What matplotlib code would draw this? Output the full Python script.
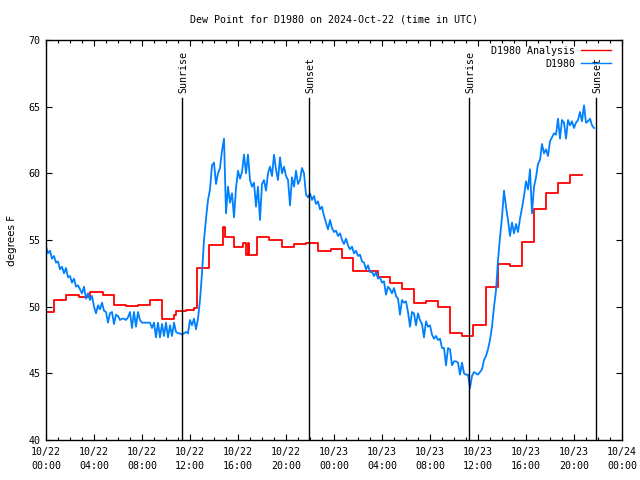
import matplotlib
matplotlib.use("Agg")
import matplotlib.pyplot as plt
from matplotlib.ticker import MultipleLocator
import numpy as np

# hours since 2024-10-22 00:00 UTC
tick_hours = [0, 4, 8, 12, 16, 20, 24, 28, 32, 36, 40, 44, 48]
tick_labels = ["10/22\n00:00", "10/22\n04:00", "10/22\n08:00", "10/22\n12:00",
               "10/22\n16:00", "10/22\n20:00", "10/23\n00:00", "10/23\n04:00",
               "10/23\n08:00", "10/23\n12:00", "10/23\n16:00", "10/23\n20:00",
               "10/24\n00:00"]

sun_hours = [11.36, 21.94, 35.29, 45.86]
sun_names = ["Sunrise", "Sunset", "Sunrise", "Sunset"]

# hourly analysis (step changes)
analysis_hours = [0.0, 0.7, 1.7, 2.75, 3.7, 4.75, 5.65, 6.65, 7.7, 8.65, 9.65,
                  10.65, 10.8, 11.65, 12.35, 12.6, 13.6, 14.75, 14.9, 15.65,
                  16.45, 16.65, 16.85, 16.95, 17.6, 18.6, 19.65, 20.7, 21.65,
                  22.65, 23.75, 24.65, 25.6, 27.65, 28.65, 29.65, 30.7, 31.65,
                  32.65, 33.65, 34.7, 35.6, 36.65, 37.65, 38.65, 39.65, 40.65,
                  41.65, 42.7, 43.65, 44.65]
analysis_vals = [49.6, 50.5, 50.85, 50.7, 51.1, 50.85, 50.15, 50.05, 50.1, 50.5,
                 49.1, 49.4, 49.65, 49.75, 49.9, 52.9, 54.65, 55.95, 55.2, 54.45,
                 54.8, 53.85, 54.8, 53.85, 55.2, 55.0, 54.45, 54.7, 54.75, 54.2,
                 54.3, 53.65, 52.7, 52.2, 51.75, 51.3, 50.25, 50.4, 49.95, 48.0,
                 47.8, 48.6, 51.5, 53.2, 53.05, 54.85, 57.35, 58.5, 59.25, 59.85,
                 59.85]

# station observations, every 10 minutes
obs_vals = [
    54.5, 54.0, 54.2, 53.6, 53.8, 53.3,
    53.4, 52.8, 53.0, 52.5, 52.9, 52.2,
    52.3, 51.8, 52.1, 51.5, 51.6, 51.3,
    51.0, 51.5, 50.6, 51.0, 50.5, 50.8,
    50.0, 49.5, 50.1, 49.8, 50.3, 49.7,
    49.6, 48.8, 49.5, 49.6, 48.7, 49.4,
    49.3, 49.0, 49.1, 49.1, 49.0, 49.2,
    49.6, 48.4, 49.6, 48.5, 49.6, 49.0,
    48.8, 48.8, 48.8, 48.8, 48.8, 48.4,
    48.8, 47.7, 48.8, 47.7, 48.7, 47.8,
    48.8, 47.7, 48.6, 47.8, 48.8, 48.1,
    48.0, 48.0, 47.9, 48.0, 48.1, 48.0, 49.0,
    48.6, 49.1, 48.3, 49.1, 50.5, 52.5,
    55.0, 56.6, 58.0, 58.8, 60.6, 60.8,
    59.2, 60.0, 60.4, 61.7, 62.6, 57.0,
    59.0, 57.8, 58.5, 56.7, 58.9, 60.2,
    59.6, 60.1, 61.4, 60.0, 61.4, 59.5,
    59.0, 59.3, 57.5, 59.0, 56.5, 59.2,
    59.5, 58.7, 60.0, 60.5, 59.8, 61.4,
    60.3, 59.5, 61.2, 60.0, 60.5, 59.8,
    59.5, 57.6, 59.7, 59.0, 60.2, 59.2,
    59.5, 60.4, 60.0, 58.4, 58.2, 58.5,
    58.0, 58.3, 57.7, 57.9, 57.3, 57.5,
    56.8, 56.3, 55.8, 56.5, 55.9, 55.6,
    55.7, 55.3, 55.5, 55.0, 54.7, 55.1,
    54.6, 54.3, 54.5, 54.0, 54.2, 53.8,
    53.9, 53.4, 53.3, 52.8, 53.1, 52.6,
    52.6, 52.3, 52.6, 52.1, 52.2, 51.8,
    51.9, 50.9, 51.5, 51.3, 51.0, 51.4,
    50.8, 50.6, 49.4, 50.5, 50.3, 50.4,
    49.6, 48.5, 49.6, 49.5, 48.6, 49.5,
    49.0, 48.7, 47.7, 48.9, 48.5, 48.6,
    47.9, 47.6, 47.8, 47.5, 47.6, 46.9,
    46.9, 45.6, 46.9, 46.8, 45.6, 45.9,
    45.9, 45.8, 44.9, 45.8, 45.0, 44.9,
    44.9, 43.9, 44.8, 45.1, 45.0, 44.9, 45.1,
    45.3, 46.0, 46.3, 46.8, 47.5, 48.5,
    50.0, 51.2, 53.5, 55.2, 56.7, 58.7,
    57.5, 56.5, 55.3, 56.3, 55.5, 56.2,
    55.6, 56.6, 57.4, 58.3, 59.4, 58.8,
    60.3, 57.0, 59.0, 59.7, 60.7, 61.0,
    62.2, 61.5, 61.8, 61.3, 62.4, 62.7,
    63.0, 62.9, 64.1, 62.6, 64.0, 63.8,
    62.6, 64.0, 63.6, 63.9, 63.4, 63.8,
    64.0, 64.6, 63.9, 65.1, 63.8, 63.9,
    64.1, 63.6, 63.4,
]
obs_hours = np.arange(len(obs_vals)) / 6.0

FONT = "DejaVu Sans Mono"
FS = 7.2
plt.rcParams["font.family"] = FONT
plt.rcParams["font.size"] = FS

fig = plt.figure(figsize=(6.4, 4.8), dpi=100)
ax = fig.add_axes([46 / 640, 40 / 480, 576 / 640, 400 / 480])

ax.step(analysis_hours, analysis_vals, where="post", color="#ff0000",
        linewidth=1.3, label="D1980 Analysis")
ax.plot(obs_hours, obs_vals, color="#0080ff", linewidth=1.3, label="D1980")

for h, name in zip(sun_hours, sun_names):
    ax.axvline(h, ymin=0, ymax=0.855, color="black", linewidth=1.0)
    ax.text(h + 0.1, 0.8675, name, transform=ax.get_xaxis_transform(),
            rotation=90, ha="center", va="bottom", fontsize=FS)

ax.set_xlim(0, 48)
ax.set_ylim(40, 70)
ax.set_xticks(tick_hours)
ax.set_xticklabels(tick_labels)
for lab in ax.get_xticklabels():
    lab.set_linespacing(1.45)
ax.xaxis.set_minor_locator(MultipleLocator(1))
ax.yaxis.set_major_locator(MultipleLocator(5))

ax.tick_params(which="both", direction="in", top=True, right=True, colors="black")
ax.tick_params(which="major", length=4, width=0.8)
ax.tick_params(which="minor", length=2, width=0.8)
ax.tick_params(axis="x", pad=5)
ax.tick_params(axis="y", pad=4)
for sp in ax.spines.values():
    sp.set_linewidth(1.0)
    sp.set_color("black")

ax.set_ylabel("degrees F", family="DejaVu Sans", fontsize=FS + 0.3)
ax.yaxis.set_label_coords(-0.05, 0.5)

fig.text(334 / 640, 1 - 20 / 480, "Dew Point for D1980 on 2024-Oct-22 (time in UTC)",
         ha="center", va="center", fontsize=FS)

leg = ax.legend(loc="upper right", bbox_to_anchor=(1 - 11 / 576, 1 - 6 / 400),
                frameon=False, markerfirst=False, handlelength=3.0,
                handletextpad=0.6, borderaxespad=0, borderpad=0,
                labelspacing=0.3, fontsize=FS)
for line in leg.get_lines():
    line.set_linewidth(1.0)

fig.savefig("out.png", dpi=100)
